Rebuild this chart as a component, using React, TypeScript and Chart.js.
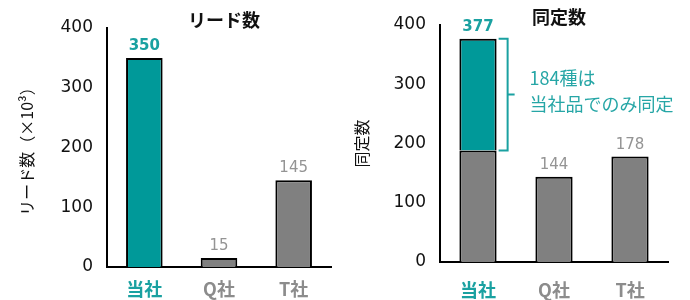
import { useEffect, useRef } from "react";
import { Chart, registerables } from "chart.js";

Chart.register(...registerables);

// ---- data ----
const companies = ["当社", "Q社", "T社"];
const leadCounts = [350, 15, 145];
const sharedIds = [188, 144, 178];
const uniqueIds = [189, 0, 0];
const yTickValues = [0, 100, 200, 300, 400];
const leadTitle = "リード数";
const leadAxisTitle = "リード数（×10³）";
const idTitle = "同定数";
const idAxisTitle = "同定数";
const uniqueNote = ["184種は", "当社品でのみ同定"];

// ---- styles ----
const TEAL = "#009999";
const TEAL_TEXT = "#1aa1a1";
const GREY_BAR = "#808080";
const GREY_TEXT = "#949494";
const NUM_FONT = "'DejaVu Sans', 'Noto Sans CJK JP', sans-serif";
const JP_FONT = "'Noto Sans CJK JP', 'Noto Sans', sans-serif";
const catColor = (i: number, a: string, b: string) => (i === 0 ? a : b);

type PanelOpts = {
  title: string;
  axisTitle: string;
  axisTitlePad: number;
  datasets: any[];
  stacked: boolean;
  padding: { left: number; right: number; top: number; bottom: number };
  yWidth: number;
  xHeight: number;
  xLabelPad: number;
  bracket: boolean;
};

function makeChart(canvas: HTMLCanvasElement, o: PanelOpts) {
  const decor = {
    id: "decor",
    afterDatasetsDraw(chart: any) {
      const ctx = chart.ctx;
      const area = chart.chartArea;
      const y = chart.scales.y;
      ctx.save();
      // title
      ctx.font = `bold 18px ${JP_FONT}`;
      ctx.fillStyle = "#111";
      ctx.textAlign = "center";
      ctx.textBaseline = "middle";
      ctx.fillText(o.title, (area.left + area.right) / 2 + 5, area.top - 8);
      // value labels
      const firstMeta = chart.getDatasetMeta(0);
      companies.forEach((_, i) => {
        let total = 0;
        chart.data.datasets.forEach((ds: any) => {
          total += ds.data[i] || 0;
        });
        const bar = firstMeta.data[i];
        const px = bar.getProps(["x"], true).x;
        const py = y.getPixelForValue(total);
        ctx.font = `${i === 0 ? "bold " : ""}15px ${NUM_FONT}`;
        ctx.fillStyle = catColor(i, TEAL_TEXT, GREY_TEXT);
        ctx.textAlign = "center";
        ctx.textBaseline = "alphabetic";
        ctx.fillText(String(total), px, py - 8);
      });
      // bracket + note
      if (o.bracket) {
        const meta = chart.getDatasetMeta(1);
        const b = meta.data[0].getProps(["x", "width"], true);
        const right = b.x + b.width / 2;
        const bx = right + 11;
        const top = y.getPixelForValue(chart.data.datasets[0].data[0] + chart.data.datasets[1].data[0]);
        const bottom = y.getPixelForValue(chart.data.datasets[0].data[0]);
        const mid = (top + bottom) / 2;
        ctx.strokeStyle = TEAL_TEXT;
        ctx.lineWidth = 2;
        ctx.beginPath();
        ctx.moveTo(bx - 9, top);
        ctx.lineTo(bx, top);
        ctx.lineTo(bx, bottom);
        ctx.lineTo(bx - 9, bottom);
        ctx.moveTo(bx, mid);
        ctx.lineTo(bx + 7, mid);
        ctx.stroke();
        ctx.font = `18px ${JP_FONT}`;
        ctx.fillStyle = "#26a6a6";
        ctx.textAlign = "left";
        ctx.textBaseline = "middle";
        ctx.fillText(uniqueNote[0], bx + 22, mid - 16);
        ctx.fillText(uniqueNote[1], bx + 22, mid + 10);
      }
      ctx.restore();
    },
  };

  return new Chart(canvas, {
    type: "bar",
    data: { labels: companies, datasets: o.datasets },
    options: {
      responsive: false,
      animation: false,
      devicePixelRatio: 1,
      layout: { padding: o.padding },
      plugins: { legend: { display: false }, tooltip: { enabled: false }, title: { display: false } },
      scales: {
        x: {
          stacked: o.stacked,
          grid: { display: false, drawTicks: false },
          border: { display: true, color: "#000", width: 2 },
          ticks: {
            padding: o.xLabelPad,
            color: companies.map((_, i) => catColor(i, TEAL_TEXT, "#8c8c8c")),
            font: { family: JP_FONT, size: 18, weight: "bold" },
          },
          afterFit: (s: any) => {
            s.height = o.xHeight;
          },
        },
        y: {
          stacked: o.stacked,
          min: yTickValues[0],
          max: yTickValues[yTickValues.length - 1],
          afterBuildTicks: (s: any) => {
            s.ticks = yTickValues.map((v) => ({ value: v }));
          },
          grid: { display: false, drawTicks: false },
          border: { display: true, color: "#000", width: 2 },
          ticks: {
            padding: 14,
            color: "#111",
            font: { family: NUM_FONT, size: 17 },
          },
          title: {
            display: true,
            text: o.axisTitle,
            color: "#111",
            font: { family: JP_FONT, size: 16, weight: "normal" },
            padding: { top: o.axisTitlePad, bottom: 0 },
          },
          afterFit: (s: any) => {
            s.width = o.yWidth;
          },
        },
      },
    } as any,
    plugins: [decor],
  });
}

function Panel({ opts, left }: { opts: PanelOpts; left: number }) {
  const ref = useRef<HTMLCanvasElement | null>(null);
  useEffect(() => {
    if (!ref.current) return;
    const c = makeChart(ref.current, opts);
    return () => c.destroy();
  }, []);
  return (
    <canvas
      ref={ref}
      width={345}
      height={300}
      style={{ position: "absolute", left, top: 0, width: 345, height: 300 }}
    />
  );
}

const barStyle = { categoryPercentage: 1, barPercentage: 0.49, borderColor: "#000", borderWidth: 2 };

const leadOpts: PanelOpts = {
  title: leadTitle,
  axisTitle: leadAxisTitle,
  axisTitlePad: 17,
  stacked: false,
  datasets: [
    {
      ...barStyle,
      data: leadCounts,
      backgroundColor: companies.map((_, i) => catColor(i, TEAL, GREY_BAR)),
    },
  ],
  padding: { left: 0, right: 14, top: 28, bottom: 0 },
  yWidth: 107,
  xHeight: 33,
  xLabelPad: 11,
  bracket: false,
};

const idOpts: PanelOpts = {
  title: idTitle,
  axisTitle: idAxisTitle,
  axisTitlePad: 7,
  stacked: true,
  datasets: [
    { ...barStyle, data: sharedIds, backgroundColor: GREY_BAR },
    { ...barStyle, data: uniqueIds.map((v) => (v ? v : null)), backgroundColor: TEAL },
  ],
  padding: { left: 0, right: 22, top: 25, bottom: 0 },
  yWidth: 95,
  xHeight: 38,
  xLabelPad: 17,
  bracket: true,
};

export default function App() {
  return (
    <div style={{ position: "fixed", left: 0, top: 0, width: 690, height: 300, background: "#fff" }}>
      <Panel opts={leadOpts} left={0} />
      <Panel opts={idOpts} left={345} />
    </div>
  );
}
